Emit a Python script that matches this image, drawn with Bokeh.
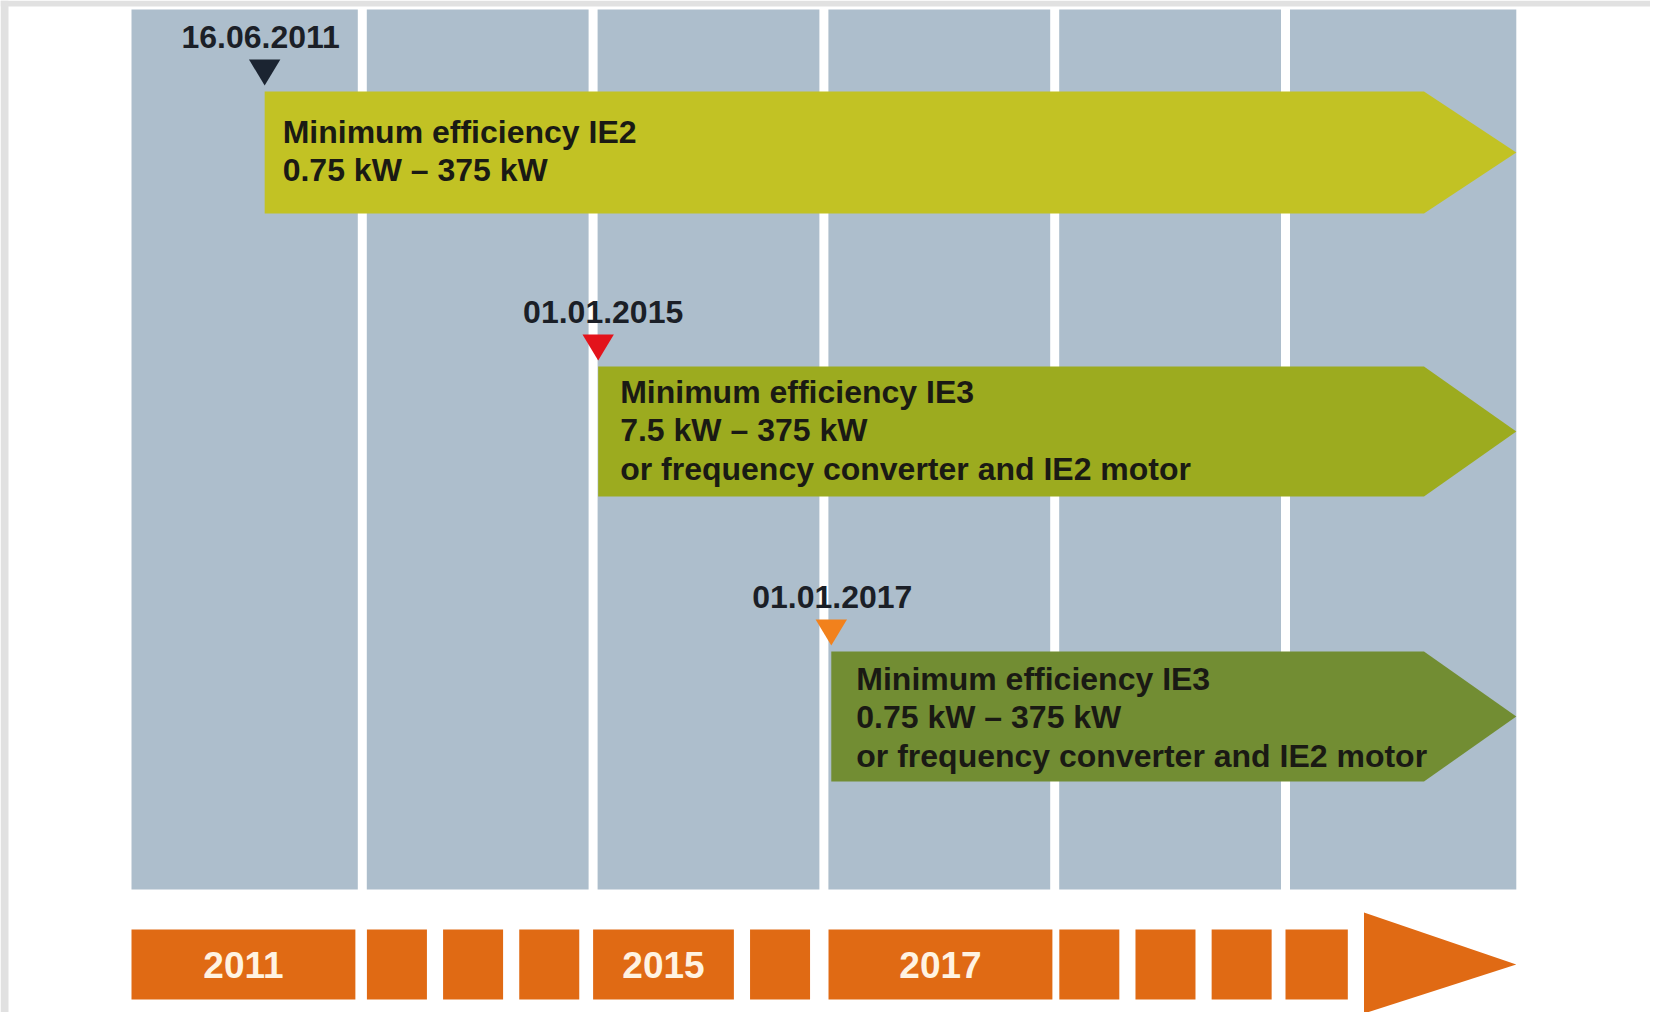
from bokeh.plotting import figure
from bokeh.models import Range1d, ColumnDataSource
from bokeh.core.properties import value
from bokeh.embed import file_html
from bokeh.resources import INLINE

# ---------------- data ----------------
# schematic timeline: six columns (0..6 in column units)
n_columns = 6
# bottom orange timeline segments (column units)
seg_start = [0.0, 1.02, 1.35, 1.68, 2.0, 2.68, 3.02, 4.02, 4.35, 4.68, 5.0]
seg_end = [0.97, 1.28, 1.61, 1.94, 2.61, 2.94, 3.99, 4.28, 4.61, 4.94, 5.27]
seg_label = ["2011", "", "", "", "2015", "", "2017", "", "", "", ""]
timeline_head_start = 5.34
timeline_end = 6.0

# regulation steps
event_dates = ["16.06.2011", "01.01.2015", "01.01.2017"]
event_pos = [0.577, 2.022, 3.032]          # position of date on the timeline
event_lines = [
    ["Minimum efficiency IE2", "0.75 kW \u2013 375 kW"],
    ["Minimum efficiency IE3", "7.5 kW \u2013 375 kW", "or frequency converter and IE2 motor"],
    ["Minimum efficiency IE3", "0.75 kW \u2013 375 kW", "or frequency converter and IE2 motor"],
]
arrow_colors = ["#c2c224", "#9cab1f", "#728d33"]
marker_colors = ["#1b2431", "#e3131b", "#f2811c"]

# ---------------- layout (page pixels) ----------------
panel_top, panel_bottom = 9, 889
col_gap = 0.039
lane_top = [91, 366, 651]
lane_bottom = [213, 496, 781]
first_line = [40, 25, 27]
text_pad = [18, 22, 25]
date_shift = [-4, 5, 1]
line_step = 38.5
arrow_body_end = 5.60
bar_top, bar_bottom = 929, 999
head_top, head_bottom = 912, 1013
tri_half = 0.068

FONT = value("Liberation Sans")

W, H = 1650, 1012
u_px = 230.8
x0_page = 131
p = figure(width=W, height=H,
           x_range=Range1d(-x0_page / u_px, (W - x0_page) / u_px), y_range=Range1d(H, 0),
           output_backend="svg", toolbar_location=None, min_border=0,
           x_axis_location=None, y_axis_location=None)
p.grid.visible = False
p.outline_line_color = None
p.background_fill_color = "white"
p.border_fill_color = "white"

# light grey frame strips (top and left edge of the picture)
p.quad(left=[-x0_page / u_px, -x0_page / u_px], right=[(W - x0_page) / u_px, (8 - x0_page) / u_px],
       top=[0, 0], bottom=[6, H], fill_color="#e1e1e1", line_color=None)

# columns of the panel
cl, cr = [], []
for i in range(n_columns):
    cl.append(i + (col_gap / 2 if i > 0 else 0))
    cr.append(i + 1 - (col_gap / 2 if i < n_columns - 1 else 0))
p.quad(left=cl, right=cr, top=[panel_top] * n_columns, bottom=[panel_bottom] * n_columns,
       fill_color="#adbecc", line_color=None)

# arrows
xs, ys = [], []
for k, x0 in enumerate(event_pos):
    t, b = lane_top[k], lane_bottom[k]
    m = (t + b) / 2
    xs.append([x0, arrow_body_end, timeline_end, arrow_body_end, x0])
    ys.append([t, t, m, b, b])
p.patches(xs=xs, ys=ys, fill_color=arrow_colors, line_color=None)

# markers (inverted triangles)
txs, tys = [], []
for k, x0 in enumerate(event_pos):
    t = lane_top[k]
    txs.append([x0 - tri_half, x0 + tri_half, x0])
    tys.append([t - 32, t - 32, t - 6])
p.patches(xs=txs, ys=tys, fill_color=marker_colors, line_color=None)

# date labels
date_src = ColumnDataSource(dict(x=event_pos, y=[t - 55 for t in lane_top],
                                 text=event_dates, dx=date_shift))
p.text(x="x", y="y", text="text", x_offset="dx", source=date_src,
       text_font=FONT, text_font_style="bold", text_font_size="32px",
       text_color="#1b1f27", text_align="center", text_baseline="middle")

# arrow texts
tx, ty, tt, tdx = [], [], [], []
for k, lines in enumerate(event_lines):
    for j, s in enumerate(lines):
        tx.append(event_pos[k])
        ty.append(lane_top[k] + first_line[k] + j * line_step)
        tt.append(s)
        tdx.append(text_pad[k])
txt_src = ColumnDataSource(dict(x=tx, y=ty, text=tt, dx=tdx))
p.text(x="x", y="y", text="text", x_offset="dx", source=txt_src,
       text_font=FONT, text_font_style="bold", text_font_size="32px",
       text_color="#1a1a14", text_align="left", text_baseline="middle")

# bottom orange timeline
n = len(seg_start)
p.quad(left=seg_start, right=seg_end, top=[bar_top] * n, bottom=[bar_bottom] * n,
       fill_color="#e06a14", line_color=None)
p.patch(x=[timeline_head_start, timeline_end, timeline_head_start],
        y=[head_top, (bar_top + bar_bottom) / 2, head_bottom],
        fill_color="#e06a14", line_color=None)
lab_x = [(a + b) / 2 for a, b, s in zip(seg_start, seg_end, seg_label) if s]
lab_t = [s for s in seg_label if s]
p.text(x=lab_x, y=[(bar_top + bar_bottom) / 2] * len(lab_t), text=lab_t,
       text_font=FONT, text_font_style="bold", text_font_size="37px",
       text_color="#fff3e2", text_align="center", text_baseline="middle")

open("out.html", "w").write(file_html(p, INLINE))
